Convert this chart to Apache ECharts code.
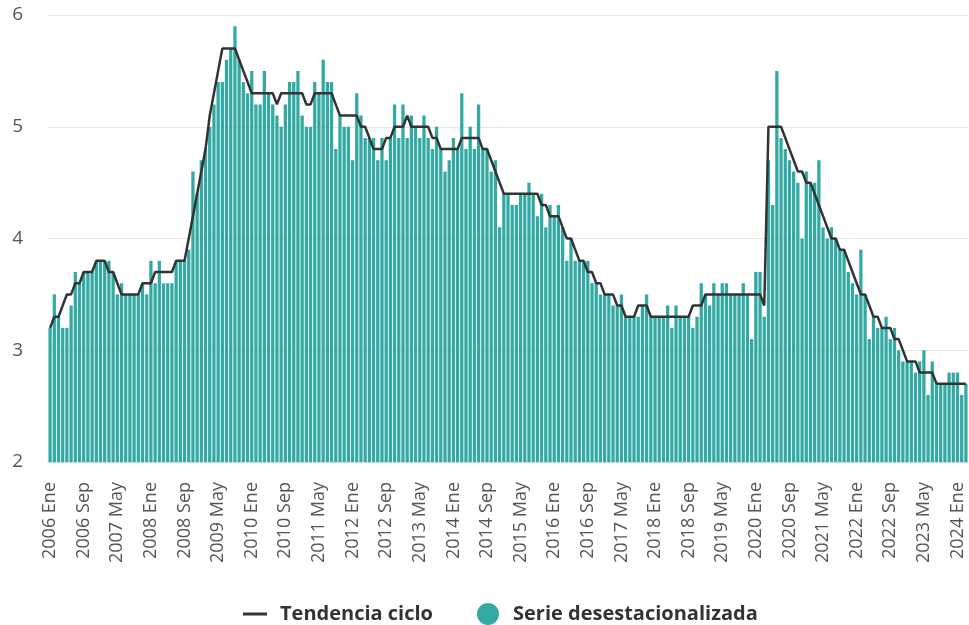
<!DOCTYPE html>
<html>
<head>
<meta charset="utf-8">
<script src="https://cdn.jsdelivr.net/npm/echarts@6/dist/echarts.min.js"></script>
<style>
  html, body { margin: 0; padding: 0; background: #fff; }
  #chart { width: 969px; height: 625px; }
</style>
</head>
<body>
<div id="chart"></div>
<script>
// Meses (etiquetas en español)
const monthNames = ['Ene', 'Feb', 'Mar', 'Abr', 'May', 'Jun', 'Jul', 'Ago', 'Sep', 'Oct', 'Nov', 'Dic'];
const startYear = 2006;

// Serie desestacionalizada (2006 Ene - 2024 Mar)
const serieDesest = [
  3.2, 3.5, 3.3, 3.2, 3.2, 3.4, 3.7, 3.6, 3.7, 3.7, 3.7, 3.8,
  3.8, 3.8, 3.8, 3.7, 3.5, 3.6, 3.5, 3.5, 3.5, 3.5, 3.6, 3.5,
  3.8, 3.6, 3.8, 3.6, 3.6, 3.6, 3.8, 3.8, 3.8, 3.9, 4.6, 4.4,
  4.7, 4.8, 5.0, 5.2, 5.4, 5.4, 5.6, 5.7, 5.9, 5.6, 5.4, 5.3,
  5.5, 5.2, 5.2, 5.5, 5.3, 5.2, 5.1, 5.0, 5.2, 5.4, 5.4, 5.5,
  5.1, 5.0, 5.0, 5.4, 5.3, 5.6, 5.4, 5.4, 4.8, 5.1, 5.0, 5.0,
  4.7, 5.3, 5.1, 4.9, 4.9, 4.9, 4.7, 4.9, 4.7, 4.9, 5.2, 4.9,
  5.2, 4.9, 5.1, 5.0, 4.9, 5.1, 4.9, 4.8, 5.0, 4.8, 4.6, 4.7,
  4.9, 4.8, 5.3, 4.8, 5.0, 4.8, 5.2, 4.8, 4.8, 4.6, 4.7, 4.1,
  4.4, 4.4, 4.3, 4.3, 4.4, 4.4, 4.5, 4.4, 4.2, 4.4, 4.1, 4.3,
  4.2, 4.3, 4.1, 3.8, 4.0, 3.8, 3.8, 3.8, 3.8, 3.6, 3.6, 3.5,
  3.5, 3.5, 3.4, 3.4, 3.5, 3.3, 3.3, 3.3, 3.3, 3.4, 3.5, 3.3,
  3.3, 3.3, 3.3, 3.4, 3.2, 3.4, 3.3, 3.3, 3.3, 3.2, 3.3, 3.6,
  3.5, 3.4, 3.6, 3.5, 3.6, 3.6, 3.5, 3.5, 3.5, 3.6, 3.5, 3.1,
  3.7, 3.7, 3.3, 4.7, 4.3, 5.5, 4.9, 4.8, 4.7, 4.6, 4.5, 4.0,
  4.6, 4.5, 4.5, 4.7, 4.1, 4.0, 4.1, 4.0, 3.9, 3.9, 3.7, 3.6,
  3.5, 3.9, 3.5, 3.1, 3.3, 3.2, 3.2, 3.3, 3.1, 3.2, 3.0, 2.9,
  2.9, 2.9, 2.8, 2.9, 3.0, 2.6, 2.9, 2.7, 2.7, 2.7, 2.8, 2.8,
  2.8, 2.6, 2.7
];

// Tendencia ciclo
const tendenciaCiclo = [
  3.2, 3.3, 3.3, 3.4, 3.5, 3.5, 3.6, 3.6, 3.7, 3.7, 3.7, 3.8,
  3.8, 3.8, 3.7, 3.7, 3.6, 3.5, 3.5, 3.5, 3.5, 3.5, 3.6, 3.6,
  3.6, 3.7, 3.7, 3.7, 3.7, 3.7, 3.8, 3.8, 3.8, 4.0, 4.2, 4.4,
  4.6, 4.8, 5.1, 5.3, 5.5, 5.7, 5.7, 5.7, 5.7, 5.6, 5.5, 5.4,
  5.3, 5.3, 5.3, 5.3, 5.3, 5.3, 5.2, 5.3, 5.3, 5.3, 5.3, 5.3,
  5.3, 5.2, 5.2, 5.3, 5.3, 5.3, 5.3, 5.3, 5.2, 5.1, 5.1, 5.1,
  5.1, 5.1, 5.0, 5.0, 4.9, 4.8, 4.8, 4.8, 4.9, 4.9, 5.0, 5.0,
  5.0, 5.1, 5.0, 5.0, 5.0, 5.0, 5.0, 4.9, 4.9, 4.8, 4.8, 4.8,
  4.8, 4.8, 4.9, 4.9, 4.9, 4.9, 4.9, 4.8, 4.8, 4.7, 4.6, 4.5,
  4.4, 4.4, 4.4, 4.4, 4.4, 4.4, 4.4, 4.4, 4.4, 4.3, 4.3, 4.2,
  4.2, 4.2, 4.1, 4.0, 4.0, 3.9, 3.8, 3.8, 3.7, 3.7, 3.6, 3.6,
  3.5, 3.5, 3.5, 3.4, 3.4, 3.3, 3.3, 3.3, 3.4, 3.4, 3.4, 3.3,
  3.3, 3.3, 3.3, 3.3, 3.3, 3.3, 3.3, 3.3, 3.3, 3.4, 3.4, 3.4,
  3.5, 3.5, 3.5, 3.5, 3.5, 3.5, 3.5, 3.5, 3.5, 3.5, 3.5, 3.5,
  3.5, 3.5, 3.4, 5.0, 5.0, 5.0, 5.0, 4.9, 4.8, 4.7, 4.6, 4.6,
  4.5, 4.5, 4.4, 4.3, 4.2, 4.1, 4.0, 4.0, 3.9, 3.9, 3.8, 3.7,
  3.6, 3.5, 3.5, 3.4, 3.3, 3.3, 3.2, 3.2, 3.2, 3.1, 3.1, 3.0,
  2.9, 2.9, 2.9, 2.8, 2.8, 2.8, 2.8, 2.7, 2.7, 2.7, 2.7, 2.7,
  2.7, 2.7, 2.7
];

const categorias = serieDesest.map((_, i) =>
  (startYear + Math.floor(i / 12)) + ' ' + monthNames[i % 12]);

const chart = echarts.init(document.getElementById('chart'));

chart.setOption({
  animation: false,
  textStyle: { fontFamily: '"Open Sans", "DejaVu Sans", sans-serif' },
  grid: { left: 48, right: 1, top: 15, bottom: 163 },
  legend: {
    top: 598,
    left: 238,
    itemGap: 44,
    itemWidth: 24,
    itemHeight: 22,
    textStyle: { fontSize: 20, fontWeight: 'bold', color: '#333', padding: [0, 0, 0, 8] },
    data: [
      { name: 'Tendencia ciclo', icon: 'path://M0,10 L24,10 L24,13 L0,13 Z', itemStyle: { color: '#333' } },
      { name: 'Serie desestacionalizada', icon: 'circle' }
    ]
  },
  xAxis: {
    type: 'category',
    data: categorias,
    boundaryGap: true,
    axisLine: { lineStyle: { color: '#ccd6eb' } },
    axisTick: { alignWithLabel: true, interval: 7, length: 14, lineStyle: { color: '#ccd6eb' } },
    axisLabel: {
      interval: 7,
      rotate: 90,
      fontSize: 18,
      color: '#555',
      margin: 20
    }
  },
  yAxis: {
    type: 'value',
    min: 2,
    max: 6,
    interval: 1,
    axisLabel: { fontSize: 19, color: '#555', margin: 25 },
    splitLine: { lineStyle: { color: '#e6e6e6' } }
  },
  series: [
    {
      name: 'Serie desestacionalizada',
      type: 'bar',
      data: serieDesest,
      barCategoryGap: '22%',
      itemStyle: { color: '#33a9a3' },
      z: 1
    },
    {
      name: 'Tendencia ciclo',
      type: 'line',
      data: tendenciaCiclo,
      showSymbol: false,
      symbol: 'none',
      lineStyle: { color: '#333', width: 2.5 },
      itemStyle: { color: '#333' },
      z: 3
    }
  ]
});
</script>
</body>
</html>
